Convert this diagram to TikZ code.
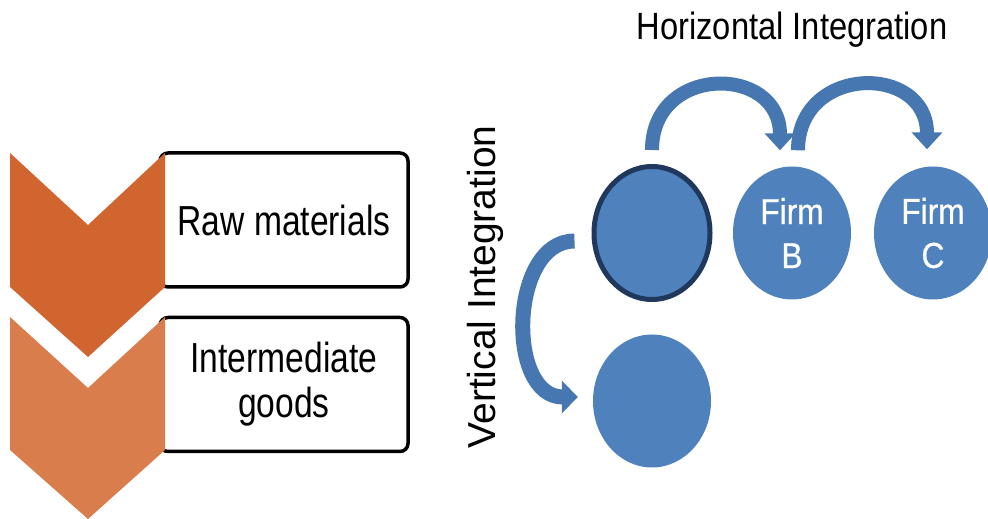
\documentclass[tikz,border=0pt]{standalone}
\usepackage{fontspec}
\setmainfont{Liberation Sans}
\newfontfamily\stepFont{Liberation Sans}[FakeStretch=0.8]
\newfontfamily\titleFont{Liberation Sans}[FakeStretch=0.86]
\newfontfamily\firmFont{Liberation Sans}[FakeStretch=0.88,FakeBold=0.6]
\usetikzlibrary{positioning,shapes.geometric,arrows.meta}

\definecolor{chevronDark}{RGB}{209,101,48}
\definecolor{chevronLight}{RGB}{218,125,77}
\definecolor{firmBlue}{RGB}{79,129,189}
\definecolor{firmEdge}{RGB}{31,56,92}
\definecolor{arrowBlue}{RGB}{70,119,177}

\begin{document}
\begin{tikzpicture}[x=1pt,y=1pt,node distance=140pt]
  \useasboundingbox (0,0) rectangle (988,519);
  \tikzset{
    stepBox/.style={rectangle,rounded corners=8pt,draw=black,line width=3.5pt,fill=white,
      minimum width=248pt,minimum height=134pt,align=center,
      font=\stepFont\fontsize{42}{45}\selectfont},
    firm/.style={ellipse,fill=firmBlue,minimum width=118pt,minimum height=133pt,inner sep=0pt,
      align=center,text=white,font=\firmFont\fontsize{36}{44}\selectfont},
    firmFocus/.style={firm,draw=firmEdge,line width=5pt,minimum width=116pt,minimum height=133pt},
    % arrow styles
    hArrow/.style={draw=arrowBlue,line width=14pt,-{Triangle[width=30pt,length=17pt]}},
    vArrow/.style={draw=arrowBlue,line width=15pt,-{Triangle[width=32pt,length=16pt]}},
    % label styles
    titleLabel/.style={anchor=base,font=\titleFont\fontsize{38}{40}\selectfont},
    sideLabel/.style={anchor=base,rotate=90,font=\fontsize{39}{41}\selectfont}
  }

  %%% Supply chain steps

  \node[stepBox] (raw) at (284,299) {Raw materials};
  \node[stepBox] (inter) [below=27pt of raw] {Intermediate\\goods};

  \fill[chevronDark] (10,366) -- (88,294) -- (165,366) -- (165,232) -- (88,162) -- (10,232) -- cycle;
  \fill[chevronLight] (10,202) -- (88,131) -- (165,202) -- (165,69) -- (88,0) -- (10,69) -- cycle;

  %%% Firms

  \node[firmFocus] (fa) at (652,286) {};
  \node[firm] (fb) [right of=fa] {Firm\\B};
  \node[firm] (fc) [right of=fb, node distance=141pt] {Firm\\C};
  \node[firm] (fd) [below of=fa, node distance=168pt] {};

  % Horizontal arrows
  \draw[hArrow] ([yshift=14pt]fa.north) .. controls +(0,86) and +(0,86) .. ([xshift=-12pt,yshift=16pt]fb.north);
  \draw[hArrow] ([xshift=6pt,yshift=16pt]fb.north) .. controls +(0,86) and +(0,86) .. ([xshift=-6pt,yshift=17pt]fc.north);

  % Vertical arrow
  \draw[vArrow] ([xshift=-17pt,yshift=-8pt]fa.west) .. controls +(-65,0) and +(-72,0) .. ([xshift=-15pt,yshift=4pt]fd.west);

  % Labels
  \node[titleLabel] (htitle) at (792,479) {Horizontal Integration};
  \node[sideLabel] (vtitle) at (495,232) {Vertical Integration};

\end{tikzpicture}
\end{document}
